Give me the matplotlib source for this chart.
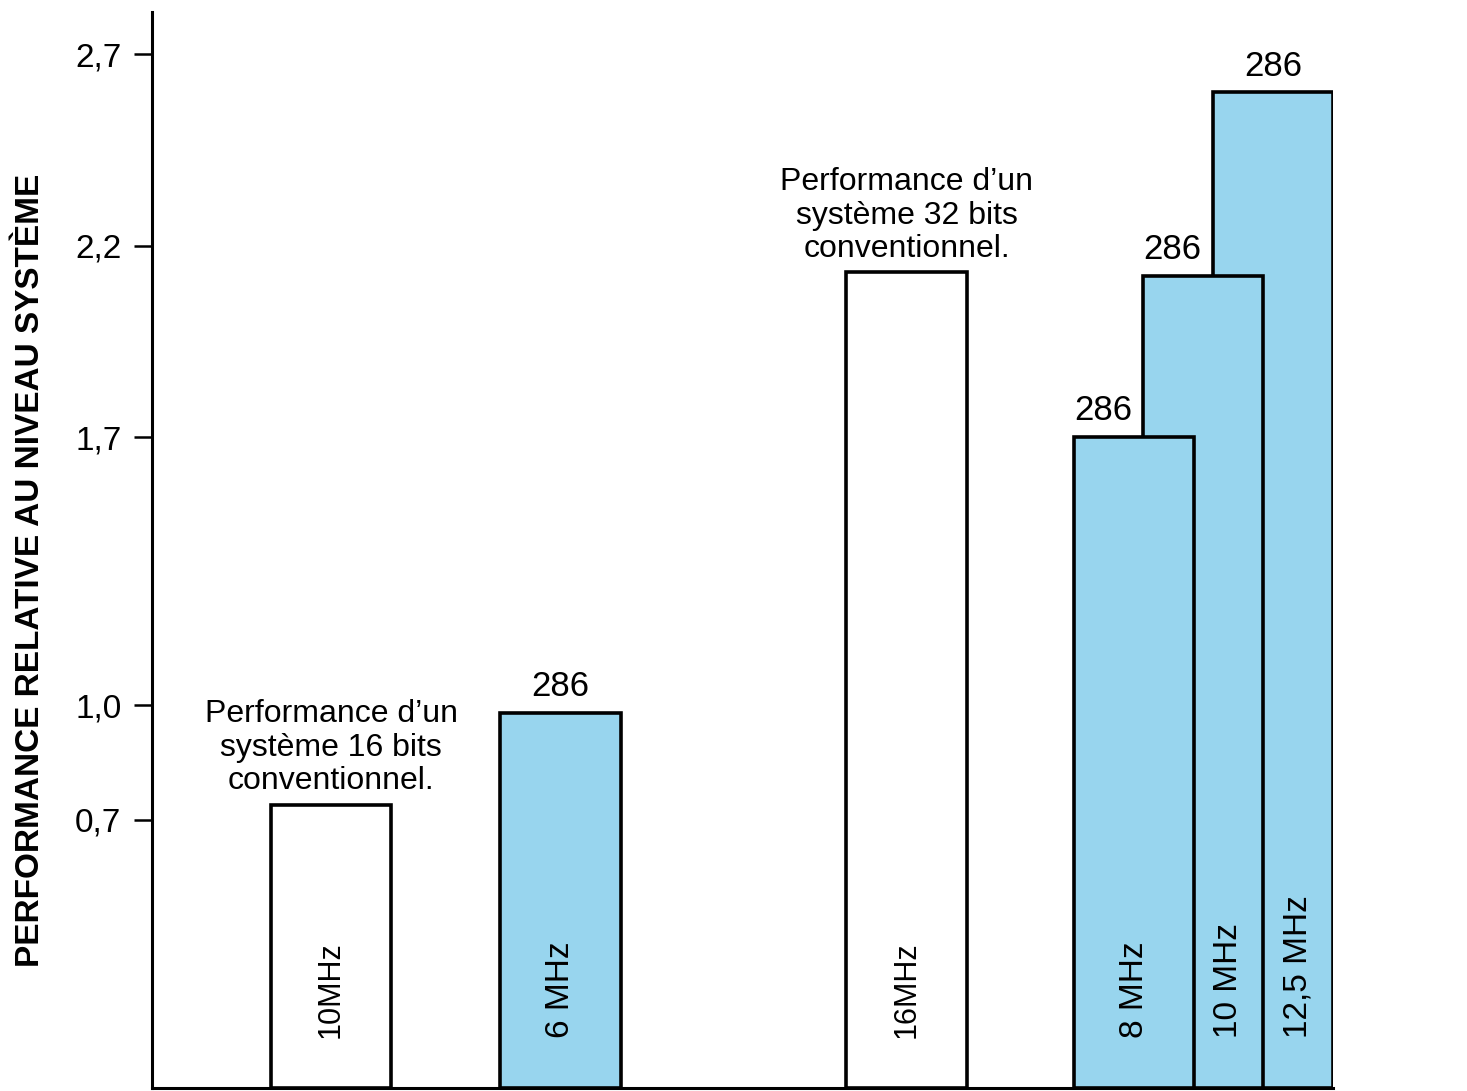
import matplotlib
matplotlib.use("Agg")
import matplotlib.pyplot as plt

# ---- data ----
categories = ["10MHz", "6 MHz", "16MHz", "8 MHz", "10 MHz", "12,5 MHz"]
values = [0.74, 0.98, 2.13, 1.70, 2.12, 2.60]
is_286 = [False, True, False, True, True, True]
top_labels = ["", "286", "", "286", "286", "286"]
annotations = ["Performance d\u2019un\nsystème 16 bits\nconventionnel.", "",
               "Performance d\u2019un\nsystème 32 bits\nconventionnel.", "", "", ""]
yticks = [0.7, 1.0, 1.7, 2.2, 2.7]
ytick_labels = ["0,7", "1,0", "1,7", "2,2", "2,7"]
ylabel = "PERFORMANCE RELATIVE AU NIVEAU SYSTÈME"

# ---- layout ----
positions = [1.49, 3.40, 6.28, 8.175, 8.75, 9.33]
zorders = [3, 3, 3, 5, 4, 3]
label_align = ["center", "center", "center", "left", "left", "center"]
bar_width = 1.0
blue = "#98d5ee"
fam = ["Liberation Sans", "DejaVu Sans"]

fig = plt.figure(figsize=(14.67, 10.91), dpi=100)
ax = fig.add_axes([152 / 1467, 3 / 1091, 1181 / 1467, 1076 / 1091])
ax.set_xlim(0, 9.83)
ax.set_ylim(0, 2.81)

for i, (x, v, b, lab, tl, ann, z, al) in enumerate(zip(
        positions, values, is_286, categories, top_labels, annotations,
        zorders, label_align)):
    ax.bar(x, v, width=bar_width, color=blue if b else "white",
           edgecolor="black", linewidth=2.6, zorder=z)
    left = x - bar_width / 2
    right = x + bar_width / 2
    if i > 0 and positions[i - 1] + bar_width / 2 > left:
        left = positions[i - 1] + bar_width / 2
    lx = (left + right) / 2
    ax.text(lx, 0.13, lab, rotation=90, rotation_mode="anchor", ha="left",
            va="center", fontsize=24 if b else 22, zorder=10,
            family=fam, color="black")
    if tl:
        tx = x if al == "center" else x - bar_width / 2
        ax.annotate(tl, (tx, v), xytext=(0, 7), textcoords="offset points",
                    ha=al, va="bottom", fontsize=25, zorder=10, family=fam)
    if ann:
        ax.annotate(ann, (x, v), xytext=(0, 6), textcoords="offset points",
                    ha="center", va="bottom", fontsize=23, linespacing=1.15,
                    zorder=10, family=fam)

ax.set_yticks(yticks)
ax.set_yticklabels(ytick_labels, fontsize=24, family=fam)
ax.set_xticks([])
ax.tick_params(axis="y", direction="out", length=13, width=1.8, pad=9)
for s in ["top", "right"]:
    ax.spines[s].set_visible(False)
ax.spines["left"].set_linewidth(2.2)
ax.spines["bottom"].set_linewidth(2.2)

ax.text(-0.103, 0.481, ylabel, transform=ax.transAxes, rotation=90,
        rotation_mode="anchor", ha="center", va="center", fontsize=24,
        family=fam, weight="bold")

fig.savefig("out.png", dpi=100)
